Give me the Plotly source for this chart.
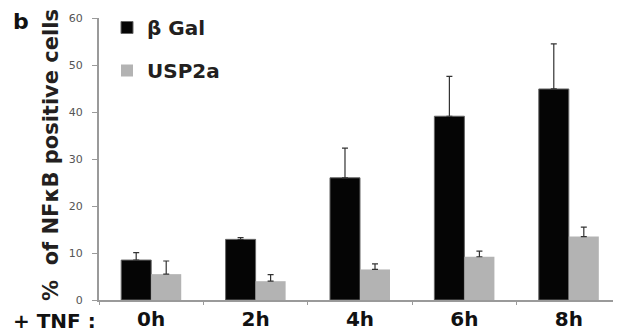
import plotly.graph_objects as go

categories = ["0h", "2h", "4h", "6h", "8h"]
bgal_values = [8.5, 12.9, 26.0, 39.1, 44.9]
bgal_errors = [1.6, 0.4, 6.3, 8.5, 9.6]
usp2a_values = [5.5, 4.0, 6.5, 9.2, 13.5]
usp2a_errors = [2.8, 1.4, 1.2, 1.2, 2.0]
y_ticks = [0, 10, 20, 30, 40, 50, 60]

BOLD = "DejaVu Sans"

fig = go.Figure()
fig.add_trace(go.Bar(
    x=categories, y=bgal_values, name="β Gal", legendgroup="a",
    marker=dict(color="#050505", line=dict(color="#666666", width=1)),
    error_y=dict(type="data", symmetric=False, array=bgal_errors,
                 arrayminus=[0] * len(bgal_errors), color="#333333",
                 thickness=1.2, width=3),
))
fig.add_trace(go.Bar(
    x=categories, y=usp2a_values, name="USP2a", legendgroup="b",
    marker=dict(color="#b3b3b3", line=dict(color="#b3b3b3", width=0)),
    error_y=dict(type="data", symmetric=False, array=usp2a_errors,
                 arrayminus=[0] * len(usp2a_errors), color="#333333",
                 thickness=1.2, width=3),
))

# page has an 8px body margin; figure sized to fill the rest of the window
OFF = 8
W, H = 621 - OFF, 334 - OFF
L, R, T, B = 99 - OFF, 0, 18 - OFF, 334 - 300
pw, ph = W - L - R, H - T - B

def px(x):
    return (x - OFF - L) / pw

def py(y):
    return (300 - y) / ph

fig.update_layout(
    width=W, height=H,
    margin=dict(l=L, r=R, t=T, b=B),
    paper_bgcolor="white", plot_bgcolor="white",
    barmode="group", bargap=0.425, bargroupgap=0,
    font=dict(family=BOLD, color="#111111"),
    legend=dict(
        x=px(107), y=py(8), xanchor="left", yanchor="top",
        font=dict(family=BOLD, size=20, weight="bold", color="#231f20"),
        tracegroupgap=14, bgcolor="rgba(0,0,0,0)",
    ),
    xaxis=dict(
        showline=True, linecolor="#9a9a9a", linewidth=2,
        ticks="outside", tickson="boundaries", ticklen=3, tickcolor="#9a9a9a",
        tickfont=dict(family=BOLD, size=20, weight="bold", color="#111111"),
        showgrid=False, zeroline=False,
    ),
    yaxis=dict(
        range=[0, 60], tickvals=y_ticks, ticktext=[str(v) for v in y_ticks],
        showline=True, linecolor="#9a9a9a", linewidth=2,
        ticks="outside", ticklen=5, tickcolor="#9a9a9a",
        tickfont=dict(family="DejaVu Sans", size=11, color="#555555"),
        ticklabelstandoff=7,
        showgrid=False, zeroline=False,
    ),
    annotations=[
        dict(text="b", xref="paper", yref="paper", x=px(11), y=py(7),
             xanchor="left", yanchor="top", showarrow=False,
             font=dict(family=BOLD, size=22, weight="bold", color="#111111")),
        dict(text="+ TNF :", xref="paper", yref="paper", x=px(11), y=py(321),
             xanchor="left", yanchor="middle", showarrow=False,
             font=dict(family=BOLD, size=20, weight="bold", color="#111111")),
        dict(text="%  of NFκB positive cells", xref="paper", yref="paper",
             x=px(51), y=py(155), xanchor="center", yanchor="middle",
             textangle=-90, showarrow=False,
             font=dict(family=BOLD, size=21, weight="bold", color="#231f20")),
    ],
)

fig.write_html("out.html")
